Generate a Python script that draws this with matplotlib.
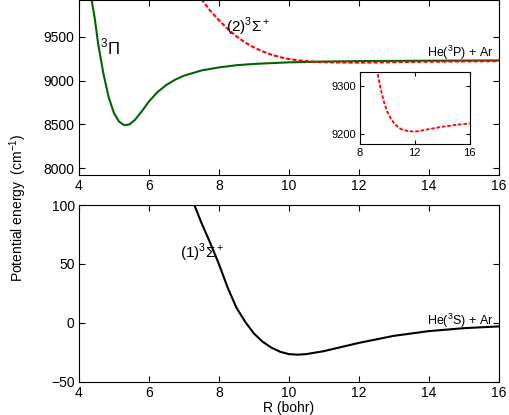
import matplotlib
matplotlib.use("Agg")
import matplotlib.pyplot as plt

plt.rcParams['font.family'] = ['Liberation Sans', 'DejaVu Sans']
plt.rcParams['font.size'] = 10
plt.rcParams['mathtext.fontset'] = 'custom'
plt.rcParams['mathtext.rm'] = 'Liberation Sans'

# 3Pi state
r_pi = [4.35, 4.45, 4.55, 4.7, 4.85, 5.0, 5.15, 5.3, 5.45, 5.6, 5.8, 6.0, 6.25, 6.5, 6.75, 7.0, 7.5, 8.0, 8.5, 9.0, 10.0, 11.0, 12.0, 14.0, 16.0]
e_pi = [9950, 9720, 9420, 9080, 8810, 8630, 8530, 8490, 8500, 8550, 8650, 8760, 8870, 8950, 9010, 9055, 9115, 9150, 9175, 9190, 9208, 9217, 9222, 9227, 9230]
# (2)3Sigma+ state
r_s2 = [7.5, 7.75, 8.0, 8.25, 8.5, 8.75, 9.0, 9.25, 9.5, 9.75, 10.0, 10.25, 10.5, 10.75, 11.0, 11.5, 12.0, 12.5, 13.0, 14.0, 15.0, 16.0]
e_s2 = [9930, 9800, 9690, 9590, 9505, 9435, 9378, 9333, 9296, 9267, 9246, 9232, 9222, 9215, 9210, 9206, 9205, 9207, 9210, 9215, 9219, 9222]
# (1)3Sigma+ state
r_s1 = [7.3, 7.5, 7.75, 8.0, 8.25, 8.5, 8.75, 9.0, 9.25, 9.5, 9.75, 10.0, 10.25, 10.5, 11.0, 11.5, 12.0, 13.0, 14.0, 15.0, 16.0]
e_s1 = [100, 85, 68, 50, 30, 13, 1, -9, -16, -21, -24.5, -26.5, -27, -26.5, -24, -20.5, -17, -11, -7, -4.5, -3]

fig = plt.figure(figsize=(5.09, 4.15), dpi=100)
ax1 = fig.add_axes([0.155, 0.578, 0.825, 0.422])
ax2 = fig.add_axes([0.155, 0.08, 0.825, 0.426])
ins = fig.add_axes([0.707, 0.653, 0.216, 0.173])

for a in (ax1, ax2, ins):
    a.tick_params(direction='in', top=True, right=True, length=4, pad=3)
    for s in a.spines.values():
        s.set_linewidth(0.8)

ax1.plot(r_pi, e_pi, color='#006400', lw=1.5)
ax1.plot(r_s2, e_s2, color='red', lw=1.5, ls=(0, (2, 1)))
ax1.set_xlim(4, 16)
ax1.set_ylim(7920, 9920)
ax1.set_xticks(range(4, 17, 2))
ax1.set_yticks([8000, 8500, 9000, 9500])
ax1.text(4.6, 9300, r'$^3\Pi$', fontsize=12)
ax1.text(8.2, 9560, r'$(2)^3\Sigma^+$', fontsize=11)
ax1.text(15.85, 9270, r'He($^3$P) + Ar', ha='right', fontsize=9)

ins.plot(r_s2, e_s2, color='red', lw=1.3, ls=(0, (2, 1)))
ins.set_xlim(8, 16)
ins.set_ylim(9179, 9329)
ins.set_xticks([8, 12, 16])
ins.set_yticks([9200, 9300])
ins.tick_params(labelsize=8, length=3)

ax2.plot(r_s1, e_s1, color='black', lw=1.5)
ax2.set_xlim(4, 16)
ax2.set_ylim(-50, 100)
ax2.set_xticks(range(4, 17, 2))
ax2.set_yticks([-50, 0, 50, 100])
ax2.set_xlabel('R (bohr)', labelpad=1)
ax2.text(6.9, 55, r'$(1)^3\Sigma^+$', fontsize=11)
ax2.text(15.85, -2, r'He($^3$S) + Ar', ha='right', fontsize=9)

fig.text(0.015, 0.5, r'Potential energy  (cm$^{-1}$)', rotation=90, va='center')

fig.savefig('out.png', dpi=100)
